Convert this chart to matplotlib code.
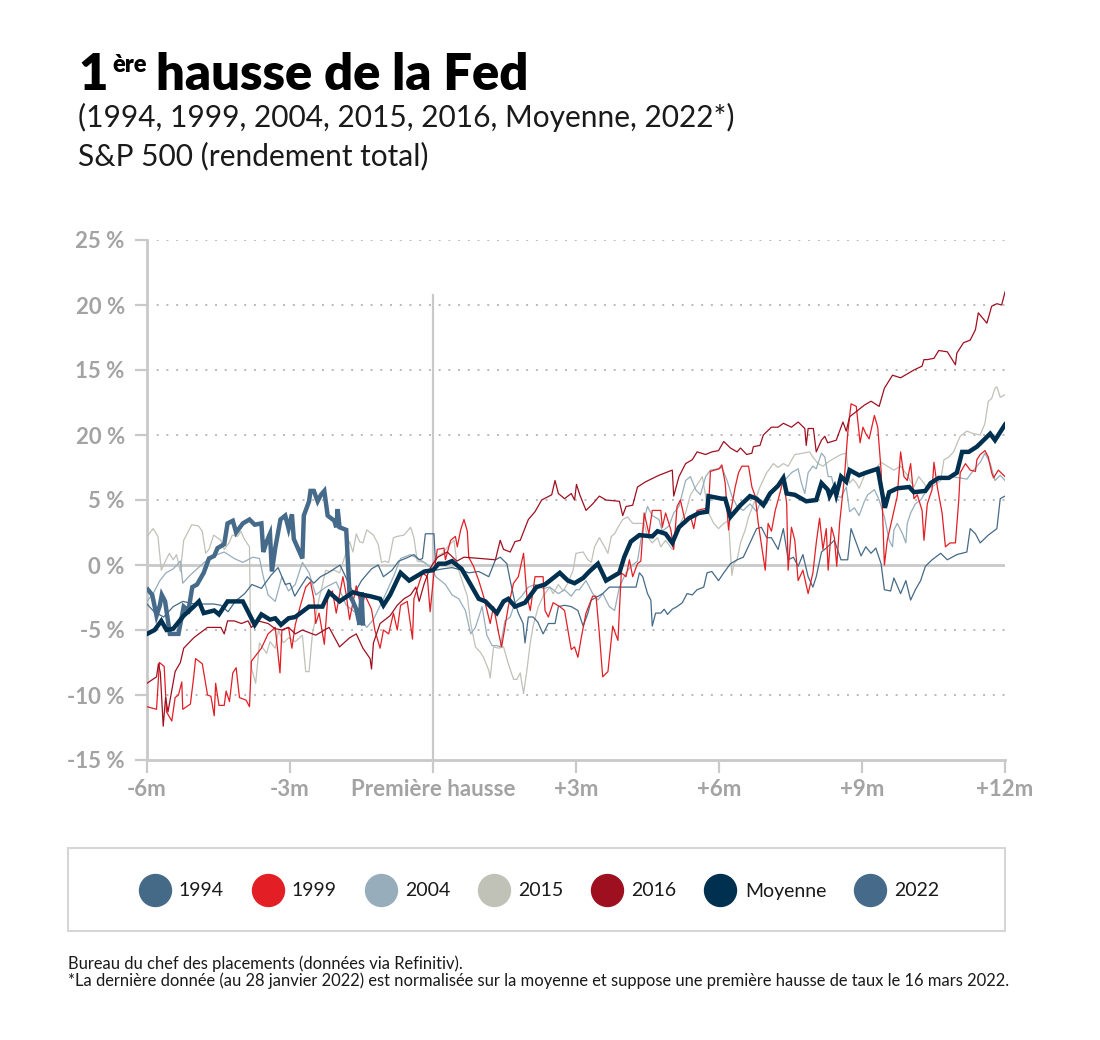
import matplotlib
matplotlib.use("Agg")
import matplotlib.pyplot as plt
from matplotlib.lines import Line2D
from matplotlib.patches import Rectangle

# months relative to the first hike, S&P 500 total return (%)
m_1994 = [-6.0, -5.85, -5.65, -5.45, -5.25, -5.0, -4.8, -4.6, -4.45, -4.3, -4.15, -3.95, -3.8, -3.6, -3.4,
          -3.25, -3.1, -3.0, -2.9, -2.8, -2.64, -2.5, -2.36, -2.2, -1.95, -1.72, -1.65, -1.5, -1.29, -1.15,
          -1.04, -0.86, -0.72, -0.58, -0.4, -0.29, -0.22, -0.16, 0.02, 0.06, 0.2, 0.4, 0.6, 0.75, 0.96, 1.17,
          1.31, 1.41, 1.55, 1.62, 1.72, 1.79, 1.89, 1.93, 2.0, 2.1, 2.2, 2.31, 2.42, 2.56, 2.63, 2.76, 2.9,
          3.04, 3.15, 3.25, 3.32, 3.42, 3.56, 3.7, 3.91, 4.05, 4.26, 4.33, 4.4, 4.5, 4.57, 4.6, 4.67, 4.78,
          4.85, 4.92, 5.02, 5.12, 5.23, 5.33, 5.44, 5.54, 5.68, 5.75, 5.85, 5.99, 6.1, 6.24, 6.38, 6.51, 6.65,
          6.79, 6.89, 7.0, 7.1, 7.24, 7.35, 7.45, 7.56, 7.66, 7.76, 7.87, 7.97, 8.04, 8.15, 8.25, 8.42, 8.56,
          8.7, 8.77, 8.88, 8.98, 9.08, 9.19, 9.29, 9.4, 9.47, 9.6, 9.67, 9.81, 9.92, 10.02, 10.12, 10.23,
          10.33, 10.47, 10.65, 10.79, 10.99, 11.2, 11.27, 11.38, 11.48, 11.65, 11.83, 11.9, 12.0]
v_1994 = [-3.0, -3.6, -4.0, -3.2, -2.8, -3.0, -3.0, -3.0, -3.1, -3.6, -2.8, -2.2, -1.5, -1.8, -0.8,
          -0.2, -1.5, -1.4, -2.4, -1.8, -0.9, -1.4, -0.9, -0.6, 0.0, -1.8, -2.2, -1.2, -0.3, 0.0,
          -0.9, -0.4, 0.3, 0.5, 0.8, 0.4, 0.5, 2.4, 2.4, -0.4, -0.3, -0.2, -0.4, -0.6, -0.5, -0.9,
          0.4, 0.6, 0.1, -1.2, -2.9, -3.7, -4.5, -6.0, -4.0, -4.0, -4.4, -5.3, -4.5, -4.5, -3.2, -3.1, -3.2,
          -3.5, -4.7, -3.7, -2.7, -2.5, -2.2, -1.7, -1.7, -1.7, -1.7, -0.6, -0.9, -2.2, -2.7, -4.7, -3.7, -3.7,
          -3.4, -3.8, -3.4, -3.2, -2.9, -2.2, -2.3, -1.9, -1.7, -0.6, -0.5, -1.2, -0.6, 0.1, 0.4, 0.6, 1.7,
          2.8, 2.9, 2.1, 2.1, 1.2, 2.8, 0.4, 0.6, -0.1, 0.8, -0.9, -1.7, -0.9, 1.0, 1.3, 1.9, 0.4,
          0.4, 2.8, 1.7, 0.7, 1.4, 0.9, 1.3, 0.1, -1.9, -2.0, -1.0, -2.2, -1.2, -2.7, -1.9, -1.2,
          -0.1, 0.4, 0.9, 0.4, 0.8, 1.0, 2.8, 2.4, 1.7, 2.3, 2.8, 5.1, 5.3]

m_1999 = [-6.0, -5.8, -5.74, -5.64, -5.59, -5.48, -5.41, -5.34, -5.27, -5.25, -5.09, -5.02, -4.98, -4.84,
          -4.73, -4.66, -4.59, -4.56, -4.49, -4.38, -4.34, -4.27, -4.2, -4.13, -4.06, -3.92, -3.85, -3.81,
          -3.6, -3.46, -3.31, -3.21, -3.17, -3.03, -2.96, -2.89, -2.78, -2.67, -2.57, -2.5, -2.46, -2.39,
          -2.28, -2.21, -2.11, -2.03, -1.89, -1.82, -1.75, -1.61, -1.5, -1.43, -1.29, -1.22, -1.11, -1.04,
          -0.93, -0.83, -0.75, -0.68, -0.54, -0.43, -0.4, -0.22, -0.12, -0.06, 0.02, 0.09, 0.23, 0.26, 0.37,
          0.47, 0.51, 0.58, 0.65, 0.72, 0.75, 0.85, 0.96, 1.06, 1.2, 1.27, 1.38, 1.44, 1.58, 1.69, 1.79,
          1.9, 1.97, 2.04, 2.14, 2.31, 2.35, 2.42, 2.52, 2.66, 2.76, 2.9, 2.97, 3.04, 3.11, 3.21, 3.35, 3.42,
          3.49, 3.56, 3.67, 3.77, 3.88, 3.95, 4.05, 4.12, 4.19, 4.29, 4.36, 4.43, 4.53, 4.6, 4.78, 4.81,
          4.88, 4.99, 5.05, 5.12, 5.19, 5.3, 5.4, 5.47, 5.54, 5.78, 5.82, 6.0, 6.06, 6.13, 6.2, 6.24, 6.34,
          6.41, 6.48, 6.62, 6.69, 6.76, 6.82, 6.97, 7.03, 7.1, 7.18, 7.24, 7.31, 7.35, 7.42, 7.45, 7.52,
          7.59, 7.66, 7.76, 7.87, 7.97, 8.04, 8.11, 8.18, 8.25, 8.29, 8.36, 8.42, 8.47, 8.53, 8.63, 8.7,
          8.77, 8.88, 8.96, 9.02, 9.08, 9.15, 9.26, 9.33, 9.4, 9.47, 9.53, 9.64, 9.74, 9.81, 9.88, 9.95,
          10.02, 10.09, 10.16, 10.26, 10.3, 10.37, 10.47, 10.51, 10.58, 10.68, 10.75, 10.85, 10.96, 11.03,
          11.06, 11.17, 11.27, 11.38, 11.41, 11.48, 11.58, 11.65, 11.72, 11.76, 11.86, 12.0]
v_1999 = [-10.9, -11.1, -7.5, -7.8, -11.3, -12.0, -10.2, -10.0, -9.0, -11.1, -10.7, -8.6, -7.2, -7.6,
          -10.0, -10.1, -11.6, -9.1, -10.8, -10.8, -9.7, -10.5, -8.3, -7.9, -10.2, -10.4, -10.9, -7.4,
          -6.4, -5.3, -4.8, -8.3, -5.0, -4.8, -6.4, -4.6, -3.1, -1.7, -1.3, -2.6, -4.5, -3.7,
          -6.1, -2.6, -2.0, -3.7, -0.9, -2.3, -4.2, -1.6, -3.4, -2.3, -3.4, -5.0, -6.4, -5.0,
          -5.3, -3.7, -5.0, -3.1, -2.8, -5.7, -2.6, -0.6, -0.9, -3.6, -0.6, 1.2, 1.3, 0.4, 1.9,
          2.2, 1.4, 2.7, 3.5, 2.6, 0.6, -0.1, -1.2, -2.4, -4.5, -3.2, -5.3, -6.3, -3.2, -1.4, -0.9,
          0.9, -2.4, -3.5, -0.9, -0.9, -3.5, -4.0, -2.9, -3.2, -3.5, -6.5, -6.3, -7.1, -5.6, -3.7, -2.4, -2.4,
          -5.3, -8.6, -8.2, -4.7, -5.8, -0.6, -0.9, 0.4, -0.9, 0.1, 0.3, 4.0, 2.4, 4.2, 4.2, 2.9,
          4.0, 2.7, 1.2, 4.5, 5.0, 3.2, 3.8, 2.8, 4.2, 4.4, 7.2, 7.4, 7.7, 6.3, 2.7, 4.0, 6.0,
          7.1, 7.6, 7.6, 6.0, 5.3, 3.3, -0.4, 3.2, 2.6, 4.2, 5.0, 6.0, 6.7, 4.7, -0.4, 2.9,
          1.9, -1.2, -0.4, -2.2, -0.6, 1.7, 3.6, 1.2, 2.8, -0.4, 2.9, 2.1, -0.1, 3.2, 6.7, 10.1,
          12.4, 12.2, 9.4, 10.6, 10.1, 9.7, 11.5, 10.6, 7.3, 0.0, 1.9, 3.7, 5.3, 8.7, 6.8, 6.5,
          7.8, 5.1, 5.4, 4.2, 1.9, 4.7, 5.8, 7.9, 6.0, 4.0, 1.4, 1.7, 1.7, 5.0,
          7.1, 7.8, 7.3, 7.2, 8.1, 8.5, 8.8, 8.3, 7.1, 6.7, 7.3, 6.8]

m_2004 = [-6.0, -5.87, -5.73, -5.6, -5.45, -5.3, -5.25, -5.1, -4.95, -4.8, -4.6, -4.38, -4.17, -3.99,
          -3.78, -3.64, -3.56, -3.46, -3.31, -3.17, -3.03, -2.89, -2.74, -2.6, -2.46, -2.25, -2.03, -1.82,
          -1.61, -1.39, -1.25, -1.04, -0.83, -0.68, -0.47, -0.18, -0.04, 0.06, 0.26, 0.4, 0.54, 0.68, 0.79,
          0.89, 1.03, 1.13, 1.24, 1.34, 1.41, 1.51, 1.62, 1.72, 1.86, 2.0, 2.14, 2.31, 2.45, 2.63, 2.76,
          2.9, 3.0, 3.07, 3.21, 3.35, 3.46, 3.56, 3.7, 3.81, 3.91, 4.05, 4.15, 4.29, 4.43, 4.5, 4.6, 4.74,
          4.81, 4.95, 5.05, 5.16, 5.3, 5.4, 5.51, 5.61, 5.72, 5.82, 5.99, 6.06, 6.17, 6.27, 6.38, 6.51,
          6.65, 6.79, 6.89, 7.0, 7.14, 7.35, 7.52, 7.66, 7.73, 7.8, 7.87, 7.97, 8.04, 8.15, 8.22, 8.29,
          8.36, 8.46, 8.56, 8.67, 8.74, 8.84, 8.94, 9.05, 9.12, 9.26, 9.36, 9.47, 9.57, 9.64, 9.67, 9.74,
          9.85, 9.92, 9.95, 10.02, 10.12, 10.23, 10.37, 10.51, 10.65, 10.85, 11.06, 11.2, 11.34, 11.48,
          11.58, 11.69, 11.79, 11.9, 12.0]
v_2004 = [-2.8, -2.2, -1.2, -0.6, -0.3, 0.3, -1.4, -0.8, -0.3, 0.2, 0.7, 1.0, 0.5, 0.2,
          0.6, 0.5, -0.9, -2.3, -2.8, -0.9, -2.0, -1.5, 0.2, -0.6, -2.3, -1.7, -1.3, -3.1,
          -3.7, -4.8, -4.2, -2.6, -0.9, 0.5, 0.8, 0.2, -0.2, -0.9, -1.5, -2.3, -2.6, -3.5, -5.3,
          -4.8, -3.2, -5.4, -6.2, -6.2, -6.3, -4.3, -4.0, -2.9, -2.4, -1.7, -1.5, -1.8, -1.7, -2.2, -1.9,
          -2.4, -1.9, -1.9, -1.2, -2.2, -2.7, -2.2, -3.2, -3.5, -1.7, -0.6, -0.1, 0.3, 3.5, 4.5, 3.8, 3.5,
          2.6, 3.0, 4.0, 4.5, 6.5, 6.8, 5.8, 5.4, 6.8, 7.3, 7.4, 7.5, 6.5, 5.3, 4.5, 4.2,
          4.7, 4.1, 5.0, 4.7, 5.8, 6.4, 7.1, 7.4, 6.3, 5.5, 7.1, 7.6, 7.4, 8.6, 8.3, 6.8,
          6.8, 5.3, 5.2, 6.0, 4.1, 4.4, 3.8, 4.9, 5.4, 5.8, 5.0, 3.7, 1.9, 1.4, 2.7, 3.2,
          2.4, 1.7, 3.2, 4.0, 4.7, 5.0, 5.8, 6.3, 6.7, 6.8, 6.7, 6.6, 7.3, 7.9,
          8.6, 7.8, 6.5, 6.9, 6.5]

m_2015 = [-6.0, -5.87, -5.77, -5.7, -5.6, -5.53, -5.45, -5.38, -5.3, -5.23, -5.06, -4.92, -4.84, -4.77,
          -4.7, -4.6, -4.45, -4.38, -4.28, -4.21, -4.1, -4.03, -3.96, -3.85, -3.82, -3.72, -3.64, -3.49,
          -3.42, -3.31, -3.24, -3.14, -3.03, -2.89, -2.74, -2.67, -2.6, -2.53, -2.39, -2.25, -2.18, -2.07,
          -1.96, -1.75, -1.68, -1.61, -1.54, -1.47, -1.39, -1.25, -1.15, -1.08, -1.01, -0.93, -0.83, -0.75,
          -0.61, -0.47, -0.4, -0.33, -0.19, -0.04, 0.06, 0.2, 0.33, 0.44, 0.51, 0.61, 0.72, 0.79, 0.89,
          0.99, 1.06, 1.17, 1.2, 1.27, 1.38, 1.48, 1.58, 1.69, 1.76, 1.83, 1.9, 1.97, 2.04, 2.1, 2.21,
          2.31, 2.45, 2.52, 2.63, 2.73, 2.83, 2.94, 3.0, 3.15, 3.25, 3.32, 3.39, 3.49, 3.6, 3.67, 3.74,
          3.81, 3.88, 3.98, 4.08, 4.19, 4.33, 4.43, 4.5, 4.6, 4.71, 4.78, 4.88, 5.02, 5.16, 5.3, 5.4,
          5.51, 5.65, 5.78, 5.89, 5.99, 6.1, 6.2, 6.27, 6.31, 6.38, 6.45, 6.55, 6.62, 6.76, 6.86, 7.0,
          7.14, 7.24, 7.35, 7.45, 7.59, 7.76, 7.9, 7.97, 8.08, 8.18, 8.32, 8.46, 8.56, 8.67, 8.74, 8.81,
          8.88, 8.94, 9.05, 9.12, 9.26, 9.4, 9.53, 9.67, 9.81, 9.95, 10.09, 10.19, 10.3, 10.37, 10.51,
          10.65, 10.72, 10.82, 10.92, 11.06, 11.2, 11.34, 11.48, 11.58, 11.65, 11.72, 11.79, 11.83, 11.9, 12.0]
v_2015 = [2.2, 2.8, 2.2, -0.4, 0.4, 0.9, 0.4, 0.8, -0.5, 1.9, 3.1, 3.0, 2.6, 0.9,
          1.2, 2.3, 1.9, 1.2, 1.7, 2.3, 2.2, 2.6, 2.0, 1.4, -7.8, -9.1, -6.0, -6.8,
          -5.9, -6.4, -5.0, -6.0, -5.6, -5.9, -5.4, -8.2, -8.2, -5.3, -2.6, -0.4, -0.5, -0.4,
          -0.6, 1.8, 1.0, 2.4, 1.8, 1.7, 2.7, 2.3, 1.6, 0.2, 0.3, 0.2, 2.1, 2.2,
          2.3, 2.9, 2.1, 0.3, 0.2, -0.2, 0.6, 0.9, 1.5, 1.9, -0.1, -1.2, -2.4, -4.5, -6.3,
          -6.7, -7.1, -8.1, -8.7, -6.3, -6.4, -6.3, -7.6, -8.8, -8.8, -8.3, -9.9, -8.1, -6.0, -4.7, -3.2,
          -2.4, -1.7, -2.2, -1.5, -2.0, -1.4, -0.4, 0.9, 1.0, 0.4, 0.2, 1.4, 2.1, 1.4, 0.9, 2.2,
          2.4, 2.9, 3.5, 3.7, 3.2, 3.2, 3.2, 2.2, 1.7, 2.1, 1.4, 1.9, 1.2, 3.0, 4.0, 5.4,
          6.0, 6.8, 4.0, 3.2, 2.8, 3.2, 3.4, -0.8, 0.1, 0.4, 1.7, 2.7, 3.7, 5.0, 6.0, 7.1,
          7.8, 7.5, 7.8, 7.6, 8.5, 8.6, 8.7, 8.3, 7.8, 7.6, 8.0, 8.3, 8.5, 8.6, 6.3, 6.6,
          6.3, 5.9, 6.9, 7.1, 7.3, 7.9, 7.6, 7.3, 7.6, 6.9, 6.0, 6.8, 6.3, 5.8, 6.1,
          6.5, 8.1, 8.3, 8.7, 9.9, 10.3, 10.1, 10.0, 10.9, 12.6, 12.8, 13.6, 13.7, 12.9, 13.1]

m_2016 = [-6.0, -5.8, -5.76, -5.72, -5.66, -5.61, -5.56, -5.41, -5.3, -5.23, -5.02, -4.73, -4.45, -4.38,
          -4.31, -4.17, -4.02, -3.88, -3.81, -3.67, -3.46, -3.31, -3.17, -3.03, -2.89, -2.74, -2.46, -2.18,
          -1.96, -1.75, -1.61, -1.47, -1.32, -1.29, -1.25, -1.11, -0.9, -0.75, -0.61, -0.47, -0.36, -0.29,
          -0.19, -0.08, 0.0, 0.1, 0.3, 0.5, 0.65, 1.0, 1.31, 1.41, 1.48, 1.62, 1.72, 1.83, 2.0, 2.14,
          2.28, 2.49, 2.56, 2.63, 2.76, 2.9, 2.97, 3.01, 3.08, 3.21, 3.35, 3.49, 3.63, 3.91, 3.98, 4.05,
          4.19, 4.29, 4.46, 4.74, 5.02, 5.05, 5.16, 5.3, 5.44, 5.54, 5.72, 5.85, 5.99, 6.1, 6.24, 6.38,
          6.45, 6.58, 6.69, 6.72, 6.86, 6.93, 7.1, 7.24, 7.35, 7.52, 7.66, 7.8, 7.83, 7.87, 7.98, 8.04,
          8.15, 8.22, 8.28, 8.46, 8.6, 8.67, 8.74, 8.88, 9.05, 9.19, 9.36, 9.47, 9.64, 9.81, 10.09, 10.26,
          10.3, 10.37, 10.51, 10.61, 10.79, 10.96, 10.99, 11.13, 11.27, 11.38, 11.44, 11.62, 11.72, 11.83,
          11.93, 12.0]
v_2016 = [-9.1, -8.6, -7.6, -8.3, -12.4, -10.2, -11.3, -8.2, -7.5, -6.4, -5.6, -4.8, -4.8, -5.3,
          -4.3, -4.3, -4.5, -4.3, -4.8, -4.3, -4.5, -4.9, -5.0, -4.8, -5.3, -5.0, -5.4, -4.8,
          -6.3, -5.6, -5.3, -6.4, -7.2, -8.0, -6.0, -4.5, -3.9, -3.1, -2.6, -2.3, -1.7, -2.8,
          -1.5, -0.4, 0.1, 0.6, 1.0, 0.3, 0.6, 0.5, 0.4, 1.9, 1.2, 1.0, 1.8, 1.9, 3.5, 4.1,
          5.0, 5.4, 6.5, 5.5, 5.1, 5.5, 5.0, 6.2, 5.4, 4.2, 4.7, 5.3, 5.0, 4.9, 3.8, 4.5,
          4.6, 6.0, 6.4, 6.9, 7.3, 5.3, 6.8, 7.8, 8.1, 8.7, 8.5, 8.7, 8.8, 9.5, 9.0, 8.7,
          9.0, 8.5, 8.6, 9.1, 9.2, 10.0, 10.6, 10.6, 10.9, 10.6, 11.0, 10.5, 9.2, 10.5, 10.5, 8.7,
          9.6, 9.9, 9.4, 9.6, 11.0, 10.3, 11.4, 11.8, 12.3, 12.6, 12.2, 13.6, 14.6, 14.4, 15.0, 15.3,
          15.8, 15.8, 15.9, 16.5, 16.4, 15.4, 16.3, 17.1, 17.3, 18.1, 19.4, 18.6, 19.9, 20.1,
          20.0, 21.0]

m_moy = [-6.0, -5.84, -5.7, -5.59, -5.45, -5.23, -5.02, -4.91, -4.81, -4.59, -4.49, -4.31, -3.99, -3.74,
         -3.6, -3.42, -3.31, -3.19, -3.03, -2.89, -2.6, -2.32, -2.18, -1.96, -1.68, -1.47, -1.32, -1.11,
         -1.04, -0.9, -0.68, -0.5, -0.18, 0.0, 0.12, 0.26, 0.4, 0.6, 0.82, 0.96, 1.1, 1.34, 1.48, 1.58,
         1.72, 1.93, 2.17, 2.35, 2.66, 2.83, 2.97, 3.15, 3.28, 3.46, 3.63, 3.91, 4.01, 4.15, 4.33, 4.6,
         4.71, 4.88, 5.02, 5.16, 5.37, 5.58, 5.75, 5.78, 6.06, 6.13, 6.24, 6.45, 6.65, 6.79, 6.93, 7.07,
         7.24, 7.35, 7.42, 7.59, 7.83, 8.04, 8.15, 8.28, 8.32, 8.42, 8.46, 8.56, 8.67, 8.74, 8.94, 9.08,
         9.33, 9.48, 9.57, 9.74, 9.99, 10.09, 10.33, 10.44, 10.61, 10.82, 10.99, 11.1, 11.24, 11.41, 11.69,
         11.79, 12.0]
v_moy = [-5.3, -5.0, -4.3, -5.0, -4.9, -3.9, -3.2, -2.8, -3.7, -3.5, -3.8, -2.8, -2.8, -4.6,
         -3.8, -4.2, -4.1, -4.6, -4.1, -4.0, -3.2, -3.2, -2.1, -2.8, -2.1, -2.3, -2.4, -2.6,
         -3.1, -2.3, -0.6, -1.2, -0.5, -0.4, 0.1, 0.1, 0.3, -0.3, -1.7, -2.6, -2.8, -3.7, -2.8, -2.6,
         -3.2, -2.9, -1.7, -1.5, -0.6, -1.2, -1.4, -1.0, -0.5, 0.1, -1.2, -0.6, 0.6, 1.8, 2.3, 2.2,
         2.6, 2.4, 1.7, 2.9, 3.6, 4.0, 4.1, 5.3, 5.1, 5.1, 3.7, 4.6, 5.3, 5.1, 4.6, 5.5,
         6.1, 6.7, 5.5, 5.4, 4.9, 5.0, 6.3, 5.8, 5.3, 6.0, 5.4, 6.8, 6.4, 7.3, 6.9, 7.1,
         7.4, 4.4, 5.6, 5.9, 6.0, 5.6, 5.7, 6.3, 6.7, 6.7, 7.1, 8.7, 8.7, 9.1, 10.1,
         9.6, 10.8]

m_2022 = [-5.98, -5.89, -5.8, -5.73, -5.69, -5.62, -5.52, -5.34, -5.23, -5.13, -5.05, -4.95, -4.81, -4.7,
          -4.59, -4.52, -4.38, -4.31, -4.2, -4.13, -4.09, -3.99, -3.85, -3.74, -3.6, -3.56, -3.49, -3.42,
          -3.38, -3.31, -3.2, -3.1, -3.03, -2.96, -2.92, -2.74, -2.71, -2.6, -2.57, -2.5, -2.42, -2.35,
          -2.28, -2.21, -2.07, -2.03, -2.0, -1.96, -1.82, -1.75, -1.68, -1.61, -1.54, -1.5, -1.47]
v_2022 = [-1.9, -2.3, -3.9, -3.1, -2.3, -2.8, -5.3, -5.3, -3.2, -3.5, -1.7, -1.5, -0.6, 0.5,
          0.7, 1.3, 1.6, 3.2, 3.4, 2.5, 2.7, 3.2, 3.5, 3.1, 3.2, 1.0, 1.8, 2.4,
          -0.5, 1.3, 3.5, 3.8, 2.8, 3.9, 2.0, 0.5, 3.8, 4.9, 5.7, 5.7, 4.9, 5.4,
          5.7, 3.8, 3.4, 2.9, 4.3, 2.9, 2.7, -2.3, -2.8, -3.4, -4.6, -2.1, -4.5]

series = ["1994", "1999", "2004", "2015", "2016", "Moyenne", "2022"]
colors = ["#456a87", "#e31e24", "#97adbb", "#c0c1b7", "#9e1020", "#00304f", "#466a89"]

x_ticks = [-6, -3, 0, 3, 6, 9, 12]
x_labels = ["-6m", "-3m", "Première hausse", "+3m", "+6m", "+9m", "+12m"]
y_ticks = [-15, -10, -5, 0, 5, 10, 15, 20, 25]
y_labels = ["-15 %", "-10 %", "-5 %", "0 %", "5 %", "20 %", "15 %", "20 %", "25 %"]

GRID = "#c9c9c9"
TICK_TXT = "#a3a3a3"
TXT = "#1a1a1a"

fig = plt.figure(figsize=(11, 10.4), dpi=100)
ax = fig.add_axes([147 / 1100, 1 - 760 / 1040, 858 / 1100, 520 / 1040])

for y in y_ticks:
    if y == 0:
        ax.axhline(0, color=GRID, lw=2, zorder=1)
    elif y != -15:
        ax.axhline(y, color="#b9b9b9", lw=1.4, ls=(0, (1, 4)), zorder=1)
ax.axvline(0, ymin=0, ymax=(20.8 + 15) / 40, color=GRID, lw=1.6, zorder=1)

thin = [(m_2015, v_2015, 3), (m_2004, v_2004, 2), (m_1994, v_1994, 0),
        (m_1999, v_1999, 1), (m_2016, v_2016, 4)]
for mm, vv, i in thin:
    ax.plot(mm, vv, color=colors[i], lw=0.9, zorder=3)
ax.plot(m_2022, v_2022, color=colors[6], lw=3.2, zorder=4, solid_joinstyle="miter")
ax.plot(m_moy, v_moy, color=colors[5], lw=3.2, zorder=5, solid_joinstyle="miter")

ax.set_xlim(-6, 12)
ax.set_ylim(-15, 25)
for s in ["top", "right"]:
    ax.spines[s].set_visible(False)
for s in ["left", "bottom"]:
    ax.spines[s].set_color(GRID)
    ax.spines[s].set_linewidth(2)
ax.set_xticks(x_ticks)
ax.set_xticklabels(x_labels)
ax.set_yticks(y_ticks)
ax.set_yticklabels(y_labels)
ax.tick_params(axis="both", length=9, width=1.6, color=GRID, labelcolor=TICK_TXT, labelsize=16)
ax.tick_params(axis="y", pad=7)
ax.tick_params(axis="x", pad=5)
for lab in ax.get_xticklabels() + ax.get_yticklabels():
    lab.set_fontfamily("Lato")
    lab.set_fontweight("bold")

# title with superscript
r = fig.canvas.get_renderer()
inv = fig.transFigure.inverted()
x0, yb = 78 / 1100, 1 - 90 / 1040
t1 = fig.text(x0, yb, "1", fontsize=36.5, fontweight="heavy", family="Lato", va="baseline", color="black")
x1 = inv.transform(t1.get_window_extent(r))[1][0]
t2 = fig.text(x1 + 0.004, yb + 0.017, "ère", fontsize=17, fontweight="heavy", family="Lato",
              va="baseline", color="black")
x2 = inv.transform(t2.get_window_extent(r))[1][0]
fig.text(x2 + 0.009, yb, "hausse de la Fed", fontsize=36.5, fontweight="heavy", family="Lato",
         va="baseline", color="black")
fig.text(x0, 1 - 127 / 1040, "(1994, 1999, 2004, 2015, 2016, Moyenne, 2022*)", fontsize=21.5,
         family="Lato", va="baseline", color=TXT)
fig.text(x0, 1 - 165 / 1040, "S&P 500 (rendement total)", fontsize=21.5,
         family="Lato", va="baseline", color=TXT)

# legend
fig.add_artist(Rectangle((68 / 1100, 1 - 931 / 1040), 937 / 1100, 83 / 1040, transform=fig.transFigure,
                         fill=False, edgecolor="#d6d6d6", lw=1.5))
handles = [Line2D([], [], ls="none", marker="o", markersize=23, color=c) for c in colors]
leg = fig.legend(handles, series, loc="center left", bbox_to_anchor=(139 / 1100, 1 - 891 / 1040), ncol=7,
                 frameon=False, borderpad=0, borderaxespad=0, handlelength=1.6, handletextpad=0.45,
                 columnspacing=1.45, prop={"family": "Lato", "size": 14})
for t in leg.get_texts():
    t.set_color(TXT)

fig.text(68 / 1100, 1 - 969 / 1040, "Bureau du chef des placements (données via Refinitiv).",
         fontsize=11.9, family="Lato", va="baseline", color=TXT)
fig.text(68 / 1100, 1 - 986 / 1040,
         "*La dernière donnée (au 28 janvier 2022) est normalisée sur la moyenne et suppose une première "
         "hausse de taux le 16 mars 2022.", fontsize=11.9, family="Lato", va="baseline", color=TXT)

fig.savefig("out.png", dpi=100)
